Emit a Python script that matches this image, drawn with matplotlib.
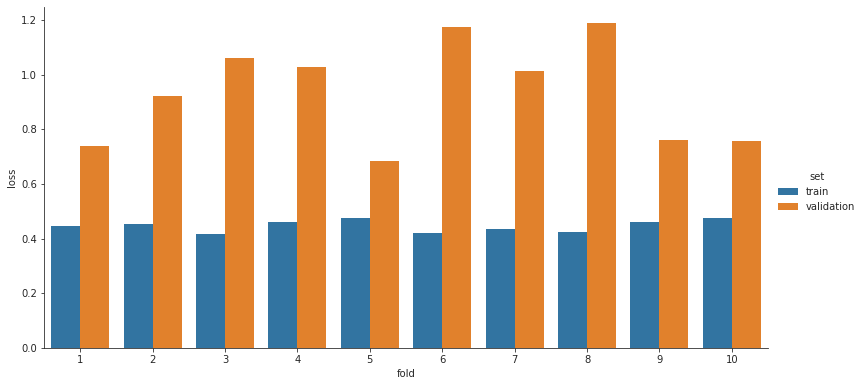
import numpy as np
import pandas as pd
import matplotlib
matplotlib.use('Agg')
import matplotlib.pyplot as plt
import seaborn as sns

folds = [1, 2, 3, 4, 5, 6, 7, 8, 9, 10]
train_loss = [0.447, 0.454, 0.418, 0.462, 0.476, 0.422, 0.436, 0.425, 0.462, 0.476]
val_loss = [0.740, 0.922, 1.061, 1.028, 0.685, 1.174, 1.014, 1.189, 0.761, 0.758]

df = pd.DataFrame({
    'fold': folds * 2,
    'loss': train_loss + val_loss,
    'set': ['train'] * len(folds) + ['validation'] * len(folds),
})

fig = plt.figure(figsize=(12, 386 / 72), dpi=72)
ax = fig.add_axes([44 / 864, 1 - 348 / 386, (768 - 44) / 864, (348 - 7) / 386])
sns.barplot(data=df, x='fold', y='loss', hue='set', ax=ax,
            palette=['#1f77b4', '#ff7f0e'], saturation=0.75)
ax.set_ylim(0, 1.248)
sns.despine(ax=ax)
for s in ['left', 'bottom']:
    ax.spines[s].set_color('#262626')
ax.tick_params(colors='#262626', labelcolor='#262626')
ax.xaxis.label.set_color('#262626')
ax.yaxis.label.set_color('#262626')

handles, labels = ax.get_legend_handles_labels()
ax.legend_.remove()
leg = fig.legend(handles, labels, title='set', frameon=False,
                 loc='center left', bbox_to_anchor=(769 / 864, 1 - 192 / 386))
for t in leg.get_texts():
    t.set_color('#262626')
leg.get_title().set_color('#262626')

fig.savefig('out.png', dpi=72)
